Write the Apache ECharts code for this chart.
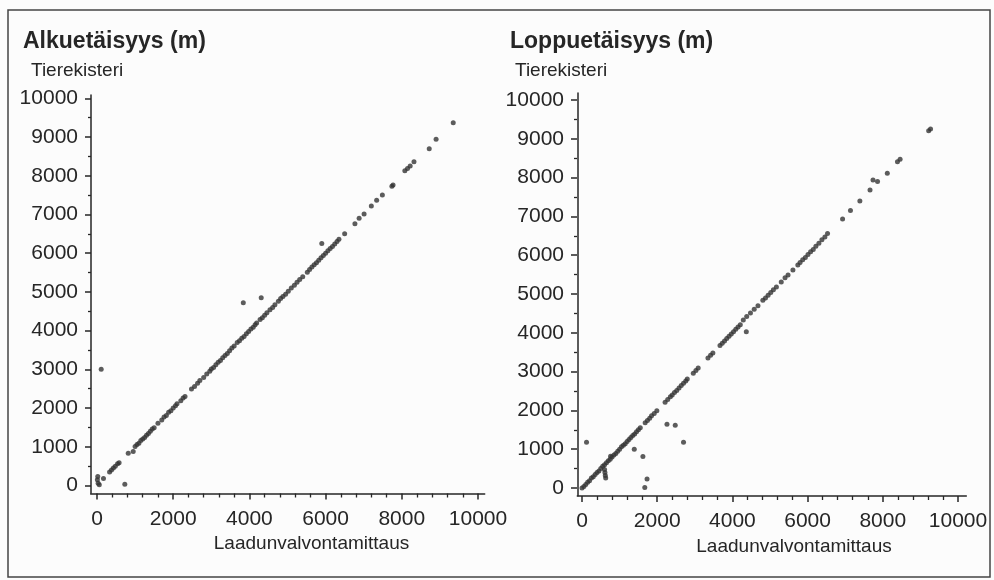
<!DOCTYPE html>
<html>
<head>
<meta charset="utf-8">
<script src="https://cdn.jsdelivr.net/npm/echarts@6/dist/echarts.min.js"></script>
<style>
    html, body { margin: 0; padding: 0; background: #fcfcfc; }
    #main { width: 994px; height: 580px; }
</style>
</head>
<body>
<div id="main"></div>
<script>
// Alkuetäisyys: Laadunvalvontamittaus (x) vs Tierekisteri (y)
var alkuX = [10, 30, 60, 20, 170, 110, 730, 3840, 4310, 5900,
    330, 380, 430, 480, 540, 580, 820, 950,
    1000, 1050, 1100, 1150, 1200, 1250, 1300, 1350, 1400, 1450, 1500,
    1600, 1700, 1760, 1820, 1880, 1940, 2000, 2060, 2100,
    2200, 2260, 2310, 2480, 2560, 2640, 2700, 2800, 2880, 2960,
    3000, 3060, 3120, 3180, 3240, 3300, 3360, 3420, 3480, 3540, 3600,
    3680, 3740, 3800, 3860, 3920, 3980, 4040, 4100, 4150,
    4190, 4280, 4340, 4400, 4460, 4540, 4610, 4670,
    4760, 4820, 4880, 4950, 5020, 5100, 5180, 5250, 5320, 5400,
    5520, 5580, 5640, 5700, 5760, 5820, 5880, 5940, 6000, 6060, 6120, 6180, 6240, 6300, 6350,
    6500, 6770, 6880, 7010, 7200, 7340, 7490, 7740, 7770,
    8080, 8150, 8220, 8320, 8720, 8900, 9350];
var alkuY = [150, 60, 20, 230, 180, 3000, 30, 4720, 4850, 6250,
    350, 400, 450, 500, 560, 590, 830, 880,
    1010, 1060, 1090, 1160, 1200, 1240, 1300, 1340, 1400, 1460, 1490,
    1610, 1690, 1770, 1810, 1890, 1930, 2000, 2060, 2110,
    2190, 2260, 2300, 2490, 2560, 2640, 2710, 2790, 2880, 2950,
    3010, 3050, 3120, 3180, 3230, 3300, 3360, 3410, 3480, 3550, 3600,
    3690, 3740, 3800, 3850, 3920, 3980, 4040, 4090, 4150,
    4200, 4290, 4330, 4400, 4460, 4540, 4600, 4670,
    4760, 4830, 4880, 4940, 5020, 5100, 5170, 5250, 5320, 5390,
    5510, 5580, 5640, 5700, 5750, 5820, 5880, 5940, 6000, 6060, 6120, 6170, 6240, 6300, 6360,
    6500, 6760, 6900, 7010, 7220, 7370, 7500, 7730, 7760,
    8130, 8190, 8250, 8360, 8700, 8940, 9370];

// Loppuetäisyys
var loppuX = [0, 50, 100, 150, 200, 250, 300, 350, 400, 450, 500, 550, 600, 650, 700, 750, 800, 850,
    900, 950, 1000, 1050, 1100, 1150, 1200, 1250, 1300, 1350, 1400, 1450, 1500, 1550,
    600, 610, 620, 630, 760,
    120, 1390, 1620, 1730, 1670, 2260, 2480, 2700, 4370,
    1680, 1740, 1800, 1850, 1920, 1990, 2210, 2280, 2350,
    2400, 2460, 2520, 2580, 2640, 2700, 2760, 2800, 2960, 3030, 3090, 3350, 3420, 3480,
    3670, 3730, 3790, 3850, 3910, 3970, 4030, 4090, 4150, 4210, 4290, 4380, 4480, 4580, 4680,
    4810, 4880, 4950, 5020, 5090, 5170, 5300, 5400, 5480, 5610,
    5740, 5800, 5870, 5940, 6010, 6080, 6150, 6220, 6300, 6380, 6460, 6530,
    6930, 7140, 7390, 7660, 7740, 7860, 8120, 8390, 8460, 9220, 9270];
var loppuY = [0, 40, 90, 150, 190, 260, 290, 350, 400, 440, 500, 560, 600, 650, 700, 740, 800, 850,
    890, 950, 1000, 1060, 1100, 1140, 1200, 1250, 1300, 1350, 1390, 1450, 1500, 1550,
    480, 400, 320, 260, 820,
    1180, 1000, 810, 230, 10, 1640, 1620, 1180, 4030,
    1680, 1740, 1800, 1860, 1920, 1990, 2210, 2280, 2350,
    2400, 2460, 2510, 2580, 2640, 2700, 2760, 2810, 2960, 3030, 3090, 3350, 3420, 3480,
    3670, 3730, 3790, 3850, 3910, 3970, 4030, 4090, 4150, 4210, 4330, 4420, 4510, 4610, 4700,
    4840, 4900, 4970, 5040, 5110, 5180, 5310, 5420, 5490, 5620,
    5750, 5810, 5880, 5940, 6020, 6090, 6150, 6230, 6310, 6400, 6470, 6560,
    6930, 7150, 7400, 7680, 7940, 7900, 8110, 8410, 8470, 9210, 9250];

var font = "'Liberation Sans', Arial, sans-serif";
var ink = '#262626';

function pairs(xs, ys) {
    return xs.map(function (x, i) { return [x, ys[i]]; });
}
function plain(v) {
    return String(v);
}

// axes that only draw the long L-shaped frame lines
function frameAxis(gi) {
    return {
        gridIndex: gi, type: 'value', min: 0, max: 1,
        axisLine: { show: true, onZero: false, lineStyle: { color: ink, width: 1.5 } },
        axisTick: { show: false }, axisLabel: { show: false }, splitLine: { show: false }
    };
}
function dataX(gi, off) {
    return {
        gridIndex: gi, type: 'value', min: 0, max: 10000, interval: 2000, offset: off,
        axisLine: { show: false, onZero: false },
        axisTick: { show: true, length: 6, lineStyle: { color: ink, width: 1.5 } },
        minorTick: { show: true, splitNumber: 5, length: 4, lineStyle: { color: ink, width: 1.3 } },
        axisLabel: { margin: 15, color: ink, fontSize: 21, fontFamily: font, formatter: plain },
        splitLine: { show: false },
        name: 'Laadunvalvontamittaus', nameLocation: 'middle', nameGap: 37,
        nameTextStyle: { color: ink, fontSize: 19, fontFamily: font, padding: [0, 0, 0, 48] }
    };
}
function dataY(gi, off) {
    return {
        gridIndex: gi, type: 'value', min: 0, max: 10000, interval: 1000, offset: off,
        axisLine: { show: false, onZero: false },
        axisTick: { show: true, length: 6, lineStyle: { color: ink, width: 1.5 } },
        minorTick: { show: true, splitNumber: 2, length: 3, lineStyle: { color: ink, width: 1.3 } },
        axisLabel: { margin: 13, color: ink, fontSize: 21, fontFamily: font, formatter: plain },
        splitLine: { show: false }
    };
}
function heading(text, left, top, size, weight) {
    return {
        text: text, left: left, top: top, padding: 0,
        textStyle: { color: ink, fontSize: size, fontWeight: weight, fontFamily: font }
    };
}

var myChart = echarts.init(document.getElementById('main'));
myChart.setOption({
    backgroundColor: '#fcfcfc',
    animation: false,
    title: [
        heading('Alkuetäisyys (m)', 23, 30, 23, 'bold'),
        heading('Tierekisteri', 31, 61, 19, 'normal'),
        heading('Loppuetäisyys (m)', 510, 30, 23, 'bold'),
        heading('Tierekisteri', 515, 61, 19, 'normal')
    ],
    graphic: [{
        type: 'rect', silent: true,
        shape: { x: 8, y: 10, width: 982, height: 567 },
        style: { fill: 'none', stroke: '#444', lineWidth: 1.5 }
    }],
    grid: [
        { left: 90.7, top: 95, width: 394, height: 398.3 },
        { left: 97, top: 98.3, width: 381, height: 387.2 },
        { left: 577.3, top: 93, width: 389, height: 402.7 },
        { left: 582, top: 100, width: 376, height: 388 }
    ],
    xAxis: [frameAxis(0), dataX(1, 8), frameAxis(2), dataX(3, 8)],
    yAxis: [frameAxis(0), dataY(1, 6), frameAxis(2), dataY(3, 5)],
    series: [
        {
            name: 'Alkuetäisyys', type: 'scatter', xAxisIndex: 1, yAxisIndex: 1,
            symbolSize: 5, clip: false,
            itemStyle: { color: '#333' },
            data: pairs(alkuX, alkuY)
        },
        {
            name: 'Loppuetäisyys', type: 'scatter', xAxisIndex: 3, yAxisIndex: 3,
            symbolSize: 5, clip: false,
            itemStyle: { color: '#333' },
            data: pairs(loppuX, loppuY)
        }
    ]
});
</script>
</body>
</html>
